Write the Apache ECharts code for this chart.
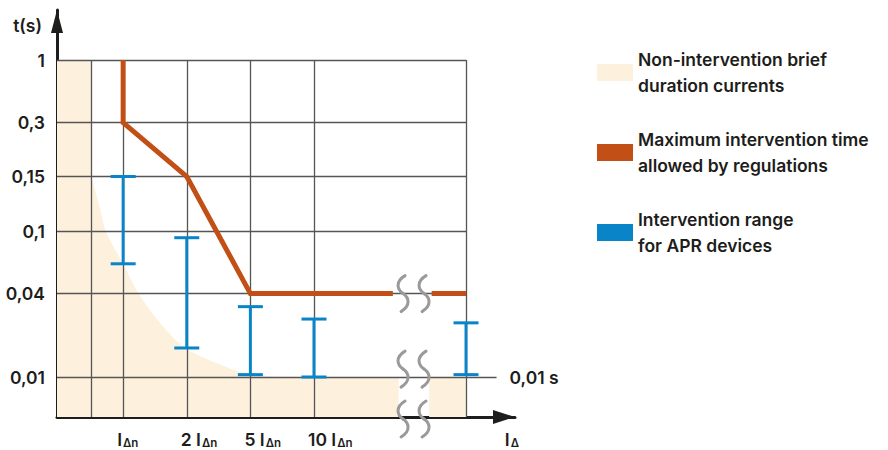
<!DOCTYPE html>
<html><head><meta charset="utf-8">
<script src="https://cdn.jsdelivr.net/npm/echarts@6/dist/echarts.min.js"></script>
<style>html,body{margin:0;padding:0;background:#fff}#c{width:888px;height:450px}</style>
</head><body><div id="c"></div>
<script>
// ---------------- data ----------------
// Time axis (schematic): tick values in seconds and their labels
const yTickValues = [0.01, 0.04, 0.1, 0.15, 0.3, 1];
const yTickLabels = ['0,01', '0,04', '0,1', '0,15', '0,3', '1'];

// Current axis (schematic): column positions and labels (main text + subscript)
const xCategoryPos = [0, 1, 2, 3];
const xCategoryMain = ['I', '2 I', '5 I', '10 I'];
const xCategorySub = ['Δn', 'Δn', 'Δn', 'Δn'];
const xEndMain = 'I';
const xEndSub = 'Δ';
const xGridColumns = [-0.5, 0, 1, 2, 3, 5.39];

// Maximum intervention time allowed by regulations (x = column position, t in s)
const maxTimeX = [0, 0, 1, 2, 4.24];
const maxTimeT = [1, 0.3, 0.15, 0.04, 0.04];
const maxTimeTailX = [4.85, 5.39];
const maxTimeTailT = [0.04, 0.04];

// Intervention range for APR devices
const aprX = [0, 1, 2, 3, 5.39];
const aprMin = [0.0622, 0.0162, 0.0104, 0.01, 0.0104];
const aprMax = [0.15, 0.0915, 0.0322, 0.0262, 0.0246];

// Non-intervention brief duration currents (upper boundary of the zone)
const nonIntStripX = [-1.04, -0.5];
const nonIntStripT = [1, 1];
const nonIntCurveX = [-0.5, -0.377, -0.27, 0, 0.24, 0.58, 0.974, 1.6, 1.995, 2.78, 4.33];
const nonIntCurveT = [0.15, 0.1217, 0.1, 0.0622, 0.04, 0.0245, 0.0162, 0.0119, 0.0104, 0.01, 0.01];
const nonIntTailX = [4.81, 5.39];
const nonIntTailT = [0.01, 0.01];

// Axis break marks (x positions)
const breakX = [4.40, 4.73];

// Legend names
const NAME_ZONE = 'Non-intervention brief\nduration currents';
const NAME_MAX = 'Maximum intervention time\nallowed by regulations';
const NAME_APR = 'Intervention range\nfor APR devices';

// ---------------- schematic scale ----------------
const tickLevels = [4.0, 12.34, 18.53, 24.05, 29.43, 35.7];
const logTicks = yTickValues.map(Math.log10);
function level(t) {
  const lt = Math.log10(t);
  let i = 0;
  while (i < logTicks.length - 2 && lt > logTicks[i + 1]) i++;
  const f = (lt - logTicks[i]) / (logTicks[i + 1] - logTicks[i]);
  return tickLevels[i] + f * (tickLevels[i + 1] - tickLevels[i]);
}
const pairs = (xs, ts) => xs.map((x, i) => [x, level(ts[i])]);

const FONT = 'Inter';
const FW = 600;
const FS = 17.5;
const TXT = '#1d1d1b';
const CREAM = '#FDF0DC';
const ORANGE = '#C24F16';
const BLUE = '#0A84C9';
const GRIDC = '#555555';
const X_MIN = -1.04, X_MAX = 6.16, Y_MAX = 40.7;
const LABEL_SHIFT = 0.094;

const xLabelValues = xCategoryPos.map(p => p - LABEL_SHIFT).concat([6.0]);
const xLabelTexts = xCategoryMain.map((m, i) => `{m|${m}}{s|${xCategorySub[i]}}`).concat([`{m|${xEndMain}}{s|${xEndSub}}`]);

const gridLines = [];
yTickValues.forEach((t) => {
  const isLow = t === 0.01;
  const item = [{ coord: [X_MIN, level(t)] }, { coord: [isLow ? 5.87 : 5.39, level(t)] }];
  if (isLow) {
    item[1].label = { show: true, position: 'end', formatter: '0,01 s', distance: 13,
      fontSize: FS, fontFamily: FONT, fontWeight: FW, color: TXT, padding: [5, 0, 0, 0] };
  }
  gridLines.push(item);
});
xGridColumns.forEach(x => {
  gridLines.push([{ coord: [x, 0] }, { coord: [x, level(1)] }]);
});

const chart = echarts.init(document.getElementById('c'), null, { renderer: 'svg' });
const zoneBase = {
  type: 'line', name: NAME_ZONE, color: CREAM, showSymbol: false, symbol: 'none',
  lineStyle: { width: 0, color: CREAM }, areaStyle: { color: CREAM, opacity: 1, origin: 'start' },
  silent: true, z: 1
};
chart.setOption({
  animation: false,
  backgroundColor: '#fff',
  grid: { left: 57, right: 373, top: 10, bottom: 33, containLabel: false, outerBoundsMode: 'none' },
  legend: {
    orient: 'vertical', left: 597, top: 33.5, padding: 0, itemGap: 2,
    itemWidth: 36, itemHeight: 17, icon: 'rect', selectedMode: false,
    itemStyle: { borderWidth: 0 },
    textStyle: { fontSize: FS, lineHeight: 26, fontFamily: FONT, fontWeight: FW, color: TXT, padding: [26, 0, 0, 0] },
    data: [NAME_ZONE, NAME_MAX, NAME_APR]
  },
  xAxis: {
    type: 'value', min: X_MIN, max: X_MAX,
    axisLine: { show: true, onZero: false, lineStyle: { color: TXT, width: 3 },
      symbol: ['none', 'triangle'], symbolSize: [14, 22], symbolOffset: [0, -11] },
    axisTick: { show: false }, splitLine: { show: false },
    axisLabel: {
      customValues: xLabelValues, align: 'left', margin: 12,
      formatter: v => { const i = xLabelValues.findIndex(p => Math.abs(p - v) < 1e-6); return i >= 0 ? xLabelTexts[i] : ''; },
      rich: {
        m: { fontSize: FS, fontFamily: FONT, fontWeight: FW, color: TXT, lineHeight: 20 },
        s: { fontSize: 11.5, fontFamily: FONT, fontWeight: FW, color: TXT, lineHeight: 12, padding: [7, 0, 0, 1] }
      }
    }
  },
  yAxis: {
    type: 'value', min: 0, max: Y_MAX,
    name: 't(s)', nameLocation: 'end', nameGap: -15,
    nameTextStyle: { fontSize: FS, fontFamily: FONT, fontWeight: FW, color: TXT, align: 'right', verticalAlign: 'middle', padding: [0, 15, 0, 0] },
    axisLine: { show: true, onZero: false, lineStyle: { color: TXT, width: 3 },
      symbol: ['none', 'triangle'], symbolSize: [12, 23], symbolOffset: [0, -11.5] },
    axisTick: { show: false }, splitLine: { show: false },
    axisLabel: {
      customValues: tickLevels, margin: 12, fontSize: FS, fontFamily: FONT, fontWeight: FW, color: TXT,
      formatter: v => { const i = tickLevels.findIndex(p => Math.abs(p - v) < 1e-6); return i >= 0 ? yTickLabels[i] : ''; }
    }
  },
  series: [
    Object.assign({}, zoneBase, {
      data: pairs(nonIntStripX, nonIntStripT),
      markLine: { silent: true, symbol: ['none', 'none'], z: 3, animation: false,
        lineStyle: { color: GRIDC, width: 1.3, type: 'solid' }, label: { show: false },
        emphasis: { disabled: true }, data: gridLines }
    }),
    Object.assign({}, zoneBase, { data: pairs(nonIntCurveX, nonIntCurveT), smooth: 0.3 }),
    Object.assign({}, zoneBase, { data: pairs(nonIntTailX, nonIntTailT) }),
    { type: 'line', name: NAME_MAX, color: ORANGE, showSymbol: false, symbol: 'none', silent: true, z: 6,
      lineStyle: { width: 5, color: ORANGE, join: 'miter' }, data: pairs(maxTimeX, maxTimeT) },
    { type: 'line', name: NAME_MAX, color: ORANGE, showSymbol: false, symbol: 'none', silent: true, z: 6,
      lineStyle: { width: 5, color: ORANGE }, data: pairs(maxTimeTailX, maxTimeTailT) },
    { type: 'custom', name: NAME_APR, color: BLUE, itemStyle: { color: BLUE }, silent: true, z: 7,
      encode: { x: 0, y: [1, 2] },
      data: aprX.map((x, i) => [x, level(aprMin[i]), level(aprMax[i])]),
      renderItem: (params, api) => {
        const lo = api.coord([api.value(0), api.value(1)]);
        const hi = api.coord([api.value(0), api.value(2)]);
        const st = { stroke: BLUE, lineWidth: 3, fill: null };
        const w = 12.5;
        return { type: 'group', children: [
          { type: 'line', shape: { x1: lo[0], y1: lo[1], x2: hi[0], y2: hi[1] }, style: st },
          { type: 'line', shape: { x1: lo[0] - w, y1: lo[1], x2: lo[0] + w, y2: lo[1] }, style: st },
          { type: 'line', shape: { x1: hi[0] - w, y1: hi[1], x2: hi[0] + w, y2: hi[1] }, style: st }
        ] };
      }
    },
    { type: 'custom', name: 'breaks', silent: true, z: 8, clip: false,
      data: [].concat(...breakX.map(x => [[x, level(0.04)], [x, level(0.0114)], [x, -0.2]])),
      renderItem: (params, api) => {
        const c = api.coord([api.value(0), api.value(1)]);
        const cx = c[0], cy = c[1];
        const st = { stroke: '#9a9a9a', lineWidth: 3, fill: null, lineCap: 'round' };
        return { type: 'group', children: [
          { type: 'bezierCurve', shape: { x1: cx + 2, y1: cy - 18, cpx1: cx - 8, cpy1: cy - 12, cpx2: cx - 6, cpy2: cy - 4, x2: cx, y2: cy }, style: st },
          { type: 'bezierCurve', shape: { x1: cx, y1: cy, cpx1: cx + 6, cpy1: cy + 4, cpx2: cx + 8, cpy2: cy + 12, x2: cx - 2, y2: cy + 18 }, style: st }
        ] };
      }
    }
  ]
});
</script>
</body></html>
